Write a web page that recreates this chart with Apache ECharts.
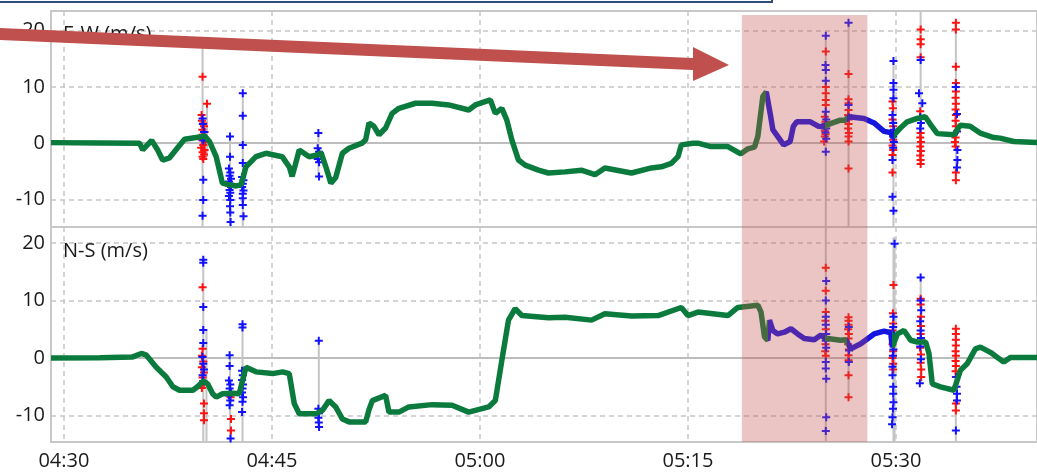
<!DOCTYPE html>
<html><head><meta charset="utf-8">
<script src="https://cdn.jsdelivr.net/npm/echarts@6/dist/echarts.min.js"></script>
<style>html,body{margin:0;padding:0;background:#fff}#c{width:1037px;height:473px}</style>
</head><body><div id="c"></div><script>
// ---- data (x = minutes after 04:30) ----
const tickMinutes = [0, 15, 30, 45, 60];
const tickLabels = ['04:30', '04:45', '05:00', '05:15', '05:30'];
const yTicks = [-10, 0, 10, 20];
const panelTitles = ['E-W (m/s)', 'N-S (m/s)'];

const ewTrace = [[-0.93,0.1],[2.59,0.05],[5.46,0],[5.68,-1.2],[6.33,0.5],[6.76,-1.2],[7.12,-3.0],[7.62,-2.6],[8.20,-0.8],[8.70,0.7],[9.78,1.1],[10.14,1.3],[10.50,0.3],[10.98,-2.4],[11.43,-7.1],[11.93,-7.4],[12.42,-7.6],[12.78,-7.4],[13.13,-4.2],[13.85,-2.4],[14.57,-1.8],[15.74,-2.4],[16.25,-4.2],[16.46,-5.9],[16.68,-3.9],[16.97,-1.2],[17.69,-2.4],[18.26,-2.1],[18.55,-1.7],[18.89,-4.2],[19.25,-7.1],[19.60,-6.1],[20.08,-1.8],[20.56,-0.9],[21.50,0],[21.76,0.6],[22.00,3.6],[22.36,3.0],[22.72,1.5],[23.20,2.7],[23.67,5.3],[24.16,6.2],[25.36,7.1],[26.55,7.1],[27.75,6.8],[29.19,5.9],[29.67,6.8],[30.75,7.7],[31.11,5.3],[31.58,6.2],[31.94,4.1],[32.30,0.6],[32.78,-3.0],[33.26,-3.9],[34.22,-4.8],[34.94,-5.3],[36.14,-5.1],[37.31,-4.8],[38.30,-5.6],[39.01,-4.4],[40.93,-5.3],[42.37,-4.4],[43.08,-4.2],[43.80,-3.6],[44.28,-2.4],[44.52,-0.3],[45.36,0],[45.72,0],[46.66,-0.6],[47.88,-0.6],[48.81,-1.9],[49.32,-1.0],[49.80,-0.7],[50.04,1.2],[50.40,8.3],[50.65,9.1],[50.97,4.7],[51.12,2.4],[51.47,1.2],[51.90,-0.3],[52.37,0.3],[52.60,3.0],[52.84,3.8],[53.83,3.8],[54.42,3.0],[54.83,2.9],[54.92,3.0],[55.07,3.3],[55.99,4.1],[56.36,4.1],[56.62,4.7],[57.70,4.4],[58.42,3.6],[59.14,2.1],[59.60,1.9],[59.80,1.0],[59.86,1.5],[60.32,2.7],[60.81,3.8],[61.53,4.4],[62.11,4.7],[62.47,3.4],[62.98,1.7],[64.18,1.5],[64.63,3.2],[65.35,3.0],[66.07,1.8],[67.05,1.0],[67.51,0.9],[68.49,0.3],[70.17,0.1]];
const nsTrace = [[-0.93,0],[2.59,0.05],[4.96,0.2],[5.59,0.8],[5.95,0.5],[6.66,-1.6],[7.38,-3.3],[7.86,-5.0],[8.34,-5.6],[9.30,-5.6],[9.63,-5.0],[10.06,-4.0],[10.37,-4.5],[10.73,-6.2],[10.98,-6.8],[11.45,-6.2],[12.17,-6.1],[12.65,-6.2],[12.87,-4.0],[13.13,-1.6],[13.85,-2.4],[15.05,-2.7],[15.77,-2.4],[16.25,-2.7],[16.61,-7.9],[16.97,-9.7],[18.17,-9.7],[18.64,-9.1],[19.12,-7.4],[19.60,-8.5],[20.08,-10.6],[20.56,-11.1],[21.76,-11.1],[22.00,-9.0],[22.24,-7.4],[23.20,-6.5],[23.44,-9.4],[24.16,-9.4],[24.87,-8.5],[26.55,-8.1],[27.99,-8.2],[29.19,-9.4],[30.63,-8.5],[31.11,-7.4],[31.58,-0.4],[32.06,6.6],[32.54,8.6],[33.02,7.4],[34.94,7.0],[36.14,7.1],[38.05,6.6],[39.01,7.7],[40.93,7.3],[42.85,7.4],[44.52,8.8],[45.00,7.4],[45.72,8.0],[47.88,7.4],[48.60,8.8],[50.04,9.2],[50.27,8.0],[50.52,3.7],[50.76,3.1],[50.88,6.6],[51.12,4.8],[51.47,4.2],[51.95,4.5],[52.43,5.1],[52.91,4.2],[53.39,3.4],[54.11,3.2],[54.59,4.0],[54.92,3.4],[55.07,3.4],[56.02,3.1],[56.38,3.2],[56.74,1.6],[57.46,2.5],[58.42,4.2],[59.14,4.7],[59.62,4.4],[59.74,1.9],[60.10,4.2],[60.58,4.8],[61.06,3.1],[61.54,2.8],[62.14,2.8],[62.38,0.8],[62.62,-4.5],[63.21,-5.0],[64.18,-5.6],[64.65,-2.1],[65.13,-1.0],[65.73,1.6],[66.09,1.9],[66.81,1.0],[67.77,-0.7],[68.25,0.1],[70.17,0.1]];

const ewBlueSpans = [[50.62, 54.88], [56.45, 59.84]];
const nsBlueSpans = [[50.8, 54.88], [56.45, 59.72]];
const shadeSpan = [48.89, 57.94];
const shadeTopEW = 22.8;

// vertical range bars: [t, low, high]
const ewBars = [[10.0,-16,18],[10.32,-2.5,7],[11.98,-16,1.2],[12.9,-16,8.9],[18.35,-5.9,1.8],[54.94,-16,19.1],[56.58,-16,21.4],[59.82,-16,14.6],[61.78,-3.7,23.6],[64.32,-6.6,21.4]];
const nsBars = [[10.05,-16,17.1],[10.28,-16,5],[11.98,-16,0.5],[12.88,-16,5.9],[18.38,-12.0,3.0],[54.94,-16,25],[56.58,-6.8,7.1],[59.82,-16,21],[59.9,-16,21],[61.78,-4.4,14.0],[64.32,-16,5.1]];

const ewRed = [[10.0,11.8],[10.32,7.0],[9.93,5.0],[9.95,4.0],[10.05,3.5],[10.1,3.0],[9.98,2.4],[10.15,2.0],[10.0,1.5],[10.1,1.0],[9.95,0.6],[10.2,0.2],[10.05,-0.3],[9.9,-0.8],[10.15,-1.2],[10.0,-1.6],[10.1,-2.0],[10.0,-2.4],[10.05,-2.8],[11.92,-7.6],
 [54.94,16.3],[54.94,10.0],[54.94,8.9],[54.94,7.7],[54.94,6.8],[54.87,4.7],[54.92,3.8],[54.97,3.0],[54.87,2.2],[54.92,1.6],[54.87,1.2],[54.82,0.3],
 [56.58,12.3],[56.58,7.8],[56.58,7.1],[56.58,5.9],[56.55,5.0],[56.6,4.2],[56.58,3.4],[56.55,2.6],[56.6,1.8],[56.58,1.2],[56.58,0.3],[56.58,-4.5],
 [59.75,7.4],[59.78,6.2],[59.75,4.2],[59.8,3.0],[59.75,1.8],[59.8,0.6],[59.75,-0.4],[59.8,-1.2],[59.75,-2.1],[59.75,-5.2],
 [61.78,23.6],[61.78,20.2],[61.78,18.5],[61.78,17.6],[61.78,15.3],[61.75,5.7],[61.78,1.8],[61.75,1.0],[61.8,0.2],[61.75,-0.6],[61.8,-1.4],[61.75,-2.2],[61.78,-3.0],[61.78,-3.7],
 [64.32,21.4],[64.32,20.2],[64.32,13.6],[64.32,10.7],[64.32,9.2],[64.3,8.1],[64.32,7.0],[64.3,6.0],[64.32,5.0],[64.3,4.0],[64.32,3.0],[64.25,1.8],[64.3,1.0],[64.25,0.2],[64.3,-0.6],[64.32,-5.2],[64.32,-6.6]];
const ewBlue = [[10.0,4.4],[10.02,3.4],[10.1,2.0],[10.05,0.5],[10.05,-6.5],[10.05,-10.1],[10.0,-12.9],
 [11.98,1.2],[11.98,-2.4],[11.9,-4.5],[12.0,-5.2],[11.95,-5.8],[12.05,-6.3],[11.9,-6.8],[12.0,-7.2],[12.05,-7.8],[11.95,-8.3],[12.0,-8.8],[11.9,-9.4],[12.0,-10.1],[11.98,-11.2],[12.0,-12.3],[12.02,-14.0],
 [12.9,8.9],[12.9,4.9],[12.9,-0.3],[12.9,-3.5],[12.85,-6.0],[12.95,-6.6],[12.9,-7.2],[12.85,-7.8],[12.95,-8.4],[12.9,-9.0],[12.9,-9.8],[12.9,-11.0],[12.95,-13.0],
 [18.35,1.8],[18.3,-0.9],[18.4,-1.5],[18.35,-2.1],[18.3,-2.8],[18.4,-3.4],[18.4,-5.9],
 [54.94,19.1],[54.92,13.9],[54.94,13.0],[54.94,11.1],[54.94,5.6],[54.97,4.2],[54.92,3.4],[54.97,2.6],[54.92,1.9],[54.97,0.8],[54.94,-1.5],
 [56.58,21.4],[56.58,6.8],[56.6,4.6],
 [59.82,14.6],[59.82,10.7],[59.82,9.5],[59.82,8.0],[59.75,5.0],[59.8,3.6],[59.85,2.4],[59.8,1.2],[59.85,0.2],[59.8,-0.8],[59.75,-3.0],[59.75,-9.5],[59.82,-12.0],
 [61.78,14.8],[61.66,8.9],[61.9,7.1],[61.75,4.6],[61.8,3.6],[61.75,2.6],
 [64.32,10.0],[64.4,5.2],[64.4,2.1],[64.43,-1.2],[64.43,-3.0],[64.4,-4.3]];
const nsRed = [[10.0,12.3],[10.0,1.6],[9.95,0.4],[10.05,-0.6],[9.95,-1.6],[10.1,-2.5],[10.0,-3.4],[10.1,-4.3],[9.95,-5.2],[10.1,-7.9],[10.1,-9.6],[10.1,-10.8],
 [12.02,-6.8],[12.05,-10.6],[12.05,-12.6],
 [54.94,15.7],[54.94,11.7],[54.94,8.0],[54.92,6.5],[54.94,5.0],[54.9,3.6],[54.92,2.4],[54.9,1.2],[54.94,0.4],
 [56.58,7.1],[56.58,6.5],[56.58,5.8],[56.55,5.0],[56.6,4.2],[56.58,3.4],[56.55,2.4],[56.6,1.5],[56.58,0.5],[56.58,-0.4],[56.58,-3.0],[56.58,-6.8],
 [59.82,12.7],[59.78,7.8],[59.8,6.0],[59.75,4.8],[59.8,3.6],[59.75,2.4],[59.8,1.2],[59.75,0],[59.8,-1.0],[59.8,-2.0],
 [61.78,10.3],[61.78,9.3],[61.8,7.2],[61.8,5.6],[61.78,4.2],[61.8,3.0],[61.75,1.8],[61.8,0.6],[61.78,-0.8],[61.82,-2.0],[61.82,-3.3],
 [64.32,5.1],[64.32,4.2],[64.32,3.2],[64.32,2.2],[64.3,1.2],[64.32,0.4],[64.3,-0.5],[64.32,-1.4],[64.3,-2.3],[64.32,-3.3],[64.32,-7.9],[64.32,-9.1]];
const nsBlue = [[10.05,17.1],[10.05,16.6],[10.05,8.9],[10.05,4.9],[10.05,2.6],[10.0,0.2],[10.05,-1.0],[10.1,-2.0],[10.0,-3.0],[10.05,-4.0],
 [11.95,0.5],[11.95,-1.4],[11.9,-3.9],[12.0,-4.6],[11.95,-5.3],[12.05,-6.0],[11.9,-6.5],[12.0,-7.4],[11.95,-8.2],[12.02,-14.0],
 [12.88,5.9],[12.88,5.3],[12.85,-2.2],[12.9,-3.0],[12.85,-3.8],[12.92,-4.6],[12.88,-5.3],[12.85,-6.0],[12.92,-6.8],[12.88,-7.6],[12.85,-9.4],
 [18.38,3.0],[18.35,-8.8],[18.4,-9.6],[18.35,-10.4],[18.38,-11.2],[18.4,-12.0],
 [54.97,13.4],[54.94,10.0],[54.94,7.2],[54.94,5.8],[54.97,4.2],[54.94,3.0],[54.97,1.8],[54.94,-0.7],[54.94,-1.8],[54.97,-3.6],[54.97,-10.3],[54.94,-12.7],
 [56.6,5.4],[56.62,1.3],[56.6,-0.7],
 [59.9,19.9],[59.82,7.2],[59.8,5.4],[59.85,4.0],[59.78,2.8],[59.82,1.5],[59.78,0.4],[59.75,-1.5],[59.75,-3.0],[59.8,-5.0],[59.8,-6.2],[59.82,-7.7],[59.78,-8.8],[59.75,-10.3],[59.72,-11.5],
 [61.78,14.0],[61.78,10.0],[61.82,8.3],[61.75,6.4],[61.78,4.8],[61.8,3.5],[61.75,2.0],[61.8,-0.2],[61.72,-4.4],
 [64.35,-3.3],[64.37,-5.0],[64.4,-6.2],[64.4,-7.4],[64.32,-12.6]];

// ---- styling ----
const X_MIN = -0.93, X_MAX = 70.17;
const EW_RANGE = [-14.9, 23.5], NS_RANGE = [-14.6, 22.8];
const GREEN = '#0b7a3d', LINEBLUE = '#1515e0', RED = '#ff1212', PBLUE = '#1212ff';
const FONT = "'Open Sans', sans-serif";
const GRIDC = '#c6c6c6';
const PLUS = 'path://M3,0H5V3H8V5H5V8H3V5H0V3H3Z';

function xAxisCfg(gi, showLabels) {
  return {type:'value', gridIndex:gi, min:X_MIN, max:X_MAX,
    axisLine:{show:false}, axisTick:{show:false, customValues:tickMinutes},
    axisLabel:{show:showLabels, customValues:tickMinutes, margin:9, color:'#1a1a1a', fontFamily:FONT, fontSize:20,
      formatter:v => { const i = tickMinutes.indexOf(Math.round(v)); return i >= 0 ? tickLabels[i] : ''; }},
    splitLine:{show:true, lineStyle:{color:GRIDC, type:[5,4], width:1.5}}};
}
function yAxisCfg(gi, r) {
  return {type:'value', gridIndex:gi, min:r[0], max:r[1],
    axisLine:{show:false}, axisTick:{show:false, customValues:yTicks},
    axisLabel:{customValues:yTicks, margin:6, color:'#1a1a1a', fontFamily:FONT, fontSize:20},
    splitLine:{show:true, lineStyle:{color:GRIDC, type:[5,4], width:1.5}}};
}
function barSeries(gi, data) {
  return {type:'custom', xAxisIndex:gi, yAxisIndex:gi, clip:true, data, encode:{x:0, y:[1,2]},
    renderItem:(p, api) => {
      const a = api.coord([api.value(0), api.value(1)]);
      const b = api.coord([api.value(0), api.value(2)]);
      return {type:'line', shape:{x1:a[0], y1:a[1], x2:b[0], y2:b[1]}, style:{stroke:'#c4c4c4', lineWidth:2}};
    }};
}
function traceSeries(gi, data) {
  return {type:'line', xAxisIndex:gi, yAxisIndex:gi, data, symbol:'none', lineStyle:{width:5.5}, clip:true};
}
function pointSeries(gi, data, color, extra) {
  return Object.assign({type:'scatter', xAxisIndex:gi, yAxisIndex:gi, data, symbol:PLUS, symbolSize:8,
    itemStyle:{color, opacity:1}, clip:true}, extra || {});
}
const zeroLine = {silent:true, symbol:'none', z:1, label:{show:false},
  lineStyle:{color:'#bdbdbd', type:'solid', width:2}, data:[{yAxis:0}]};
const shadeStyle = {silent:true, z:10, label:{show:false}, itemStyle:{color:'rgba(192,80,77,0.33)', borderWidth:0}};

const option = {
  animation:false,
  grid:[
    {left:51, top:11, width:989, height:216, show:true, borderColor:'#c8c8c8', borderWidth:2},
    {left:51, top:227, width:989, height:215, show:true, borderColor:'#c8c8c8', borderWidth:2}
  ],
  xAxis:[xAxisCfg(0, false), xAxisCfg(1, true)],
  yAxis:[yAxisCfg(0, EW_RANGE), yAxisCfg(1, NS_RANGE)],
  visualMap:[
    {type:'piecewise', show:false, dimension:0, seriesIndex:1,
      pieces: ewBlueSpans.map(s => ({gte:s[0], lte:s[1], color:LINEBLUE})), outOfRange:{color:GREEN}},
    {type:'piecewise', show:false, dimension:0, seriesIndex:5,
      pieces: nsBlueSpans.map(s => ({gte:s[0], lte:s[1], color:LINEBLUE})), outOfRange:{color:GREEN}}
  ],
  series:[
    barSeries(0, ewBars),
    traceSeries(0, ewTrace),
    pointSeries(0, ewRed, RED, {markLine:zeroLine}),
    pointSeries(0, ewBlue, PBLUE, {markArea:Object.assign({}, shadeStyle,
      {data:[[{xAxis:shadeSpan[0], yAxis:shadeTopEW}, {xAxis:shadeSpan[1], yAxis:EW_RANGE[0]}]]})}),
    barSeries(1, nsBars),
    traceSeries(1, nsTrace),
    pointSeries(1, nsRed, RED, {markLine:zeroLine}),
    pointSeries(1, nsBlue, PBLUE, {markArea:Object.assign({}, shadeStyle,
      {data:[[{xAxis:shadeSpan[0], yAxis:NS_RANGE[1]}, {xAxis:shadeSpan[1], yAxis:NS_RANGE[0]}]]})})
  ],
  graphic:[
    {type:'text', left:63, top:24, z:50, style:{text:panelTitles[0], font:"20px 'Open Sans', sans-serif", fill:'#1a1a1a'}},
    {type:'text', left:63, top:241, z:50, style:{text:panelTitles[1], font:"20px 'Open Sans', sans-serif", fill:'#1a1a1a'}},
    {type:'rect', z:100, shape:{x:-3, y:-20, width:775, height:22}, style:{fill:'#fff', stroke:'#2e4c7e', lineWidth:2}},
    {type:'polygon', z:100, shape:{points:[[0,28],[693,58],[693,47],[729,65],[693,81],[693,70],[0,40]]}, style:{fill:'#c0504d'}}
  ]
};
const chart = echarts.init(document.getElementById('c'), null, {renderer:'canvas'});
chart.setOption(option);
</script></body></html>
